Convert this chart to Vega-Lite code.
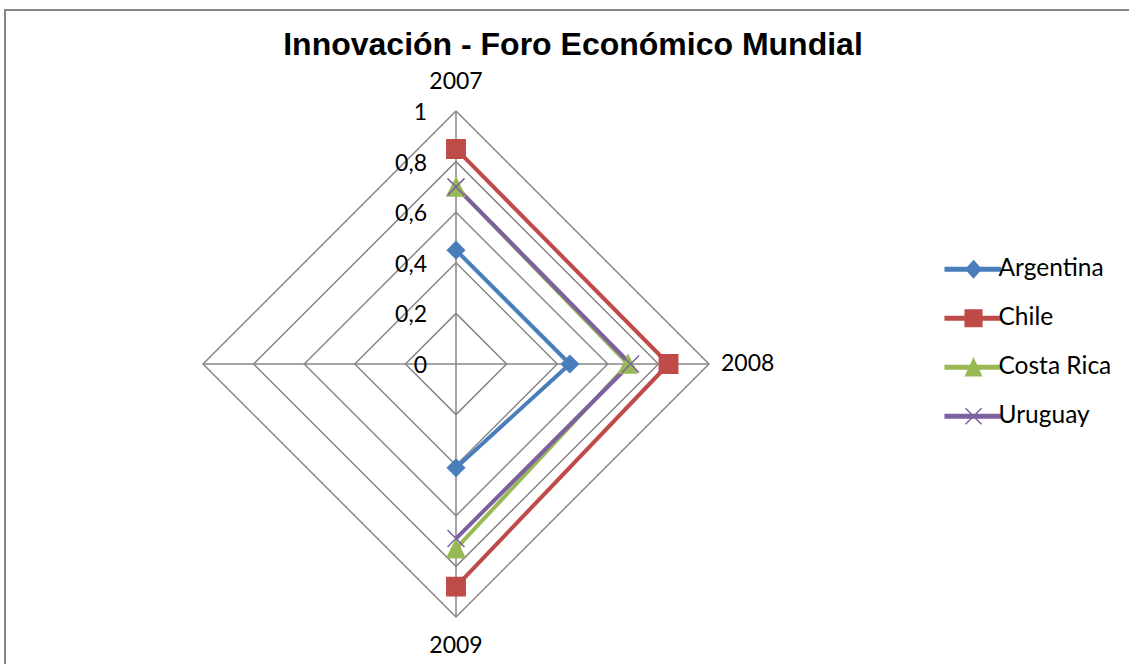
{
  "$schema": "https://vega.github.io/schema/vega-lite/v6.json",
  "width": 1130,
  "height": 660,
  "autosize": {"type": "none"},
  "padding": {"left": 5, "top": 10, "right": 0, "bottom": 0},
  "background": "white",
  "view": {"stroke": "#868686", "strokeWidth": 2, "fill": "white"},
  "title": {
    "text": "Innovación - Foro Económico Mundial",
    "font": "Liberation Sans",
    "fontSize": 32,
    "fontWeight": "bold",
    "color": "black",
    "anchor": "middle",
    "offset": -77,
    "baseline": "alphabetic",
    "dx": 3
  },
  "datasets": {
    "series": [
      {"pais": "Argentina", "anio": "2007", "k": 0, "r": 0.45},
      {"pais": "Argentina", "anio": "2008", "k": 1, "r": 0.45},
      {"pais": "Argentina", "anio": "2009", "k": 2, "r": 0.41},
      {"pais": "Chile", "anio": "2007", "k": 0, "r": 0.85},
      {"pais": "Chile", "anio": "2008", "k": 1, "r": 0.84},
      {"pais": "Chile", "anio": "2009", "k": 2, "r": 0.88},
      {"pais": "Costa Rica", "anio": "2007", "k": 0, "r": 0.70},
      {"pais": "Costa Rica", "anio": "2008", "k": 1, "r": 0.68},
      {"pais": "Costa Rica", "anio": "2009", "k": 2, "r": 0.73},
      {"pais": "Uruguay", "anio": "2007", "k": 0, "r": 0.70},
      {"pais": "Uruguay", "anio": "2008", "k": 1, "r": 0.69},
      {"pais": "Uruguay", "anio": "2009", "k": 2, "r": 0.69}
    ],
    "anillos": [
      {"ring": 0.2, "k": 0, "r": 0.2}, {"ring": 0.2, "k": 1, "r": 0.2}, {"ring": 0.2, "k": 2, "r": 0.2}, {"ring": 0.2, "k": 3, "r": 0.2}, {"ring": 0.2, "k": 4, "r": 0.2},
      {"ring": 0.4, "k": 0, "r": 0.4}, {"ring": 0.4, "k": 1, "r": 0.4}, {"ring": 0.4, "k": 2, "r": 0.4}, {"ring": 0.4, "k": 3, "r": 0.4}, {"ring": 0.4, "k": 4, "r": 0.4},
      {"ring": 0.6, "k": 0, "r": 0.6}, {"ring": 0.6, "k": 1, "r": 0.6}, {"ring": 0.6, "k": 2, "r": 0.6}, {"ring": 0.6, "k": 3, "r": 0.6}, {"ring": 0.6, "k": 4, "r": 0.6},
      {"ring": 0.8, "k": 0, "r": 0.8}, {"ring": 0.8, "k": 1, "r": 0.8}, {"ring": 0.8, "k": 2, "r": 0.8}, {"ring": 0.8, "k": 3, "r": 0.8}, {"ring": 0.8, "k": 4, "r": 0.8},
      {"ring": 1.0, "k": 0, "r": 1.0}, {"ring": 1.0, "k": 1, "r": 1.0}, {"ring": 1.0, "k": 2, "r": 1.0}, {"ring": 1.0, "k": 3, "r": 1.0}, {"ring": 1.0, "k": 4, "r": 1.0}
    ],
    "radios": [
      {"k": 0, "r": 0}, {"k": 0, "r": 1},
      {"k": 1, "r": 0}, {"k": 1, "r": 1},
      {"k": 2, "r": 0}, {"k": 2, "r": 1},
      {"k": 3, "r": 0}, {"k": 3, "r": 1}
    ],
    "marcas": [
      {"label": "0", "k": 0, "r": 0},
      {"label": "0,2", "k": 0, "r": 0.2},
      {"label": "0,4", "k": 0, "r": 0.4},
      {"label": "0,6", "k": 0, "r": 0.6},
      {"label": "0,8", "k": 0, "r": 0.8},
      {"label": "1", "k": 0, "r": 1}
    ],
    "categorias": [
      {"cat": "2007", "k": 0, "r": 1},
      {"cat": "2008", "k": 1, "r": 1},
      {"cat": "2009", "k": 2, "r": 1}
    ]
  },
  "encoding": {
    "x": {"field": "x", "type": "quantitative", "scale": {"domain": [-1.78261, 2.68379], "nice": false, "zero": false}, "axis": null},
    "y": {"field": "y", "type": "quantitative", "scale": {"domain": [-1.20949, 1.39921], "nice": false, "zero": false}, "axis": null}
  },
  "layer": [
    {
      "data": {"name": "anillos"},
      "transform": [
        {"calculate": "datum.r*sin(datum.k*PI/2)", "as": "x"},
        {"calculate": "datum.r*cos(datum.k*PI/2)", "as": "y"}
      ],
      "mark": {"type": "line", "stroke": "#878787", "strokeWidth": 1.5},
      "encoding": {"detail": {"field": "ring", "type": "nominal"}, "order": {"field": "k", "type": "quantitative"}}
    },
    {
      "data": {"name": "radios"},
      "transform": [
        {"calculate": "datum.r*sin(datum.k*PI/2)", "as": "x"},
        {"calculate": "datum.r*cos(datum.k*PI/2)", "as": "y"}
      ],
      "mark": {"type": "line", "stroke": "#878787", "strokeWidth": 1.5},
      "encoding": {"detail": {"field": "k", "type": "nominal"}, "order": {"field": "r", "type": "quantitative"}}
    },
    {
      "data": {"name": "marcas"},
      "transform": [
        {"calculate": "datum.r*sin(datum.k*PI/2)", "as": "x"},
        {"calculate": "datum.r*cos(datum.k*PI/2)", "as": "y"}
      ],
      "mark": {"type": "text", "align": "right", "baseline": "middle", "dx": -29, "dy": 2, "font": "Lato", "fontSize": 23, "color": "black"},
      "encoding": {"text": {"field": "label", "type": "nominal"}}
    },
    {
      "data": {"name": "categorias"},
      "transform": [
        {"filter": "datum.k == 0"},
        {"calculate": "datum.r*sin(datum.k*PI/2)", "as": "x"},
        {"calculate": "datum.r*cos(datum.k*PI/2)", "as": "y"}
      ],
      "mark": {"type": "text", "align": "center", "baseline": "middle", "dy": -29, "font": "Lato", "fontSize": 23, "color": "black"},
      "encoding": {"text": {"field": "cat", "type": "nominal"}}
    },
    {
      "data": {"name": "categorias"},
      "transform": [
        {"filter": "datum.k == 1"},
        {"calculate": "datum.r*sin(datum.k*PI/2)", "as": "x"},
        {"calculate": "datum.r*cos(datum.k*PI/2)", "as": "y"}
      ],
      "mark": {"type": "text", "align": "left", "baseline": "middle", "dx": 12, "dy": 0, "font": "Lato", "fontSize": 23, "color": "black"},
      "encoding": {"text": {"field": "cat", "type": "nominal"}}
    },
    {
      "data": {"name": "categorias"},
      "transform": [
        {"filter": "datum.k == 2"},
        {"calculate": "datum.r*sin(datum.k*PI/2)", "as": "x"},
        {"calculate": "datum.r*cos(datum.k*PI/2)", "as": "y"}
      ],
      "mark": {"type": "text", "align": "center", "baseline": "middle", "dy": 29, "font": "Lato", "fontSize": 23, "color": "black"},
      "encoding": {"text": {"field": "cat", "type": "nominal"}}
    },
    {
      "data": {"name": "series"},
      "transform": [
        {"calculate": "datum.r*sin(datum.k*PI/2)", "as": "x"},
        {"calculate": "datum.r*cos(datum.k*PI/2)", "as": "y"}
      ],
      "mark": {"type": "line", "strokeWidth": 4, "strokeJoin": "round"},
      "encoding": {
        "color": {"field": "pais", "type": "nominal", "scale": {"domain": ["Argentina", "Chile", "Costa Rica", "Uruguay"], "range": ["#4A7EBB", "#BE4B48", "#98B954", "#7D60A0"]}, "legend": null},
        "order": {"field": "k", "type": "quantitative"}
      }
    },
    {
      "data": {"name": "series"},
      "transform": [
        {"calculate": "datum.r*sin(datum.k*PI/2)", "as": "x"},
        {"calculate": "datum.r*cos(datum.k*PI/2)", "as": "y"}
      ],
      "mark": {"type": "point", "filled": true, "size": 400, "strokeWidth": 1.5, "opacity": 1},
      "encoding": {
        "shape": {"field": "pais", "type": "nominal", "scale": {"domain": ["Argentina", "Chile", "Costa Rica", "Uruguay"], "range": ["M0,-0.85L0.85,0L0,0.85L-0.85,0Z", "M-0.92,-0.92H0.92V0.92H-0.92Z", "M0,-0.9L0.9,0.9H-0.9Z", "M-0.85,-0.85L0.85,0.85M-0.85,0.85L0.85,-0.85"]}, "legend": null},
        "fill": {"field": "pais", "type": "nominal", "scale": {"domain": ["Argentina", "Chile", "Costa Rica", "Uruguay"], "range": ["#4A7EBB", "#BE4B48", "#98B954", "#7D60A0"]}, "legend": null},
        "stroke": {"field": "pais", "type": "nominal", "scale": {"domain": ["Argentina", "Chile", "Costa Rica", "Uruguay"], "range": ["#4A7EBB", "#BE4B48", "#98B954", "#7D60A0"]}, "legend": null}
      }
    },
    {
      "data": {"name": "series"},
      "transform": [
        {"calculate": "datum.r*sin(datum.k*PI/2)", "as": "x"},
        {"calculate": "datum.r*cos(datum.k*PI/2)", "as": "y"},
        {"calculate": "datum.pais", "as": "serie"}
      ],
      "mark": {"type": "point", "filled": true, "opacity": 0, "size": 10},
      "encoding": {
        "shape": {"field": "serie", "type": "nominal", "title": null,
          "scale": {"domain": ["Argentina", "Chile", "Costa Rica", "Uruguay"], "range": [
            "M-5.88,-0.22H1V0.22H-5.88ZM-2.34,-1.05L-1.4,0L-2.34,1.05L-3.28,0Z",
            "M-5.88,-0.22H1V0.22H-5.88ZM-3.38,-1.04H-1.3V1.04H-3.38Z",
            "M-5.88,-0.22H1V0.22H-5.88ZM-2.34,-1.05L-1.36,1.05H-3.32Z",
            "M-5.88,-0.22H1V0.22H-5.88ZM-3.34,-1L-1.34,1M-3.34,1L-1.34,-1"]},
          "legend": {"title": null, "orient": "none", "legendX": 975, "legendY": 247, "symbolSize": 256, "symbolStrokeWidth": 1.5, "symbolOpacity": 1, "labelFont": "Lato", "labelFontSize": 24.5, "labelColor": "black", "labelOffset": -6, "rowPadding": 24, "padding": 0, "labelLimit": 300}},
        "fill": {"field": "serie", "type": "nominal", "title": null, "scale": {"domain": ["Argentina", "Chile", "Costa Rica", "Uruguay"], "range": ["#4A7EBB", "#BE4B48", "#98B954", "#7D60A0"]},
          "legend": {"title": null, "orient": "none", "legendX": 975, "legendY": 247, "symbolSize": 256, "symbolStrokeWidth": 1.5, "symbolOpacity": 1, "labelFont": "Lato", "labelFontSize": 24.5, "labelColor": "black", "labelOffset": -6, "rowPadding": 24, "padding": 0, "labelLimit": 300}},
        "stroke": {"field": "serie", "type": "nominal", "title": null, "scale": {"domain": ["Argentina", "Chile", "Costa Rica", "Uruguay"], "range": ["#4A7EBB", "#BE4B48", "#98B954", "#7D60A0"]},
          "legend": {"title": null, "orient": "none", "legendX": 975, "legendY": 247, "symbolSize": 256, "symbolStrokeWidth": 1.5, "symbolOpacity": 1, "labelFont": "Lato", "labelFontSize": 24.5, "labelColor": "black", "labelOffset": -6, "rowPadding": 24, "padding": 0, "labelLimit": 300}}
      }
    }
  ],
  "resolve": {"scale": {"shape": "independent", "fill": "independent", "stroke": "independent", "color": "independent"}}
}
